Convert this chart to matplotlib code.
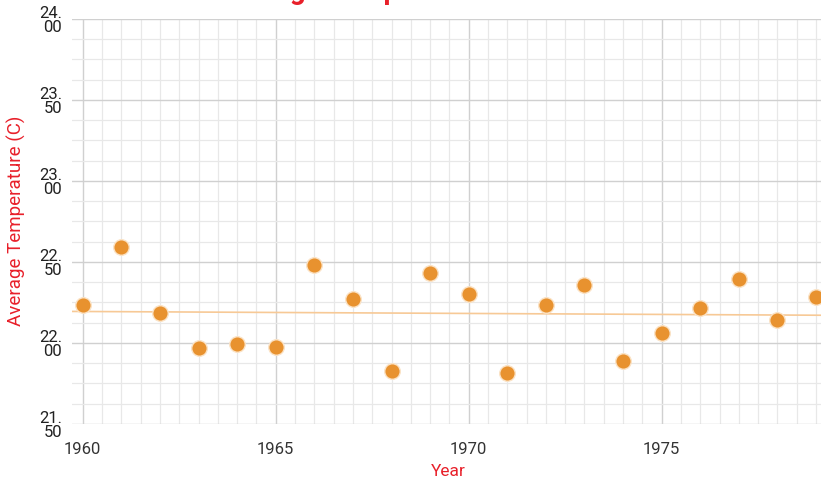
import numpy as np
import matplotlib.pyplot as plt
from matplotlib.ticker import MultipleLocator, FuncFormatter

plt.rcParams['font.family'] = ['Roboto', 'DejaVu Sans']

years = np.arange(1960, 1980)
temps = [22.235, 22.593, 22.185, 21.969, 21.994, 21.975, 22.481, 22.272,
         21.827, 22.432, 22.302, 21.815, 22.235, 22.358, 21.889, 22.062,
         22.216, 22.395, 22.142, 22.284]

fig = plt.figure(figsize=(8.21, 4.89), dpi=100)
ax = fig.add_axes([72/821, 1 - 425/489, 1 - 72/821, 405/489])

xmin, xmax = 1959.72, 1979.13
ax.set_xlim(xmin, xmax)
ax.set_ylim(21.5, 24.0)

# trend line
k, b = np.polyfit(years, temps, 1)
xs = np.array([xmin, xmax])
ax.plot(xs, k*xs + b, color='#f7c996', lw=1.2, zorder=2)

ax.scatter(years, temps, s=125, color='#e8922f', edgecolor='#fbe3c6',
           linewidth=1.0, zorder=3, clip_on=False)

ax.xaxis.set_major_locator(MultipleLocator(5))
ax.xaxis.set_minor_locator(MultipleLocator(0.5))
ax.yaxis.set_major_locator(MultipleLocator(0.5))
ax.yaxis.set_minor_locator(MultipleLocator(0.125))
ax.yaxis.set_major_formatter(FuncFormatter(lambda v, p: "%d.\n%02d" % (int(v), round((v % 1) * 100))))

ax.grid(which='major', color='#d0d0d0', lw=1.0)
ax.grid(which='minor', color='#e8e8e8', lw=0.9)
ax.set_axisbelow(True)
for s in ax.spines.values():
    s.set_visible(False)
ax.tick_params(which='both', length=0)
ax.tick_params(axis='x', labelsize=12, colors='#333333', pad=12)
ax.tick_params(axis='y', labelsize=12, colors='#222222', pad=7)
for t in ax.get_yticklabels():
    t.set_linespacing(0.9)

ax.set_xlabel("Year", color='#e8202a', fontsize=12.5)
ax.set_ylabel("Average Temperature (C)", color='#e8202a', fontsize=13.5)
ax.xaxis.set_label_coords(0.503, -0.096)
ax.yaxis.set_label_coords(-0.062, 0.505)

fig.text(0.0, 1 - 5/489, "Sri Lanka Annual Average Temperature 1960-1979",
         color='#e8202a', fontsize=20, fontweight='bold', va='bottom', ha='left')

plt.savefig('out.png', dpi=100)
plt.close()
